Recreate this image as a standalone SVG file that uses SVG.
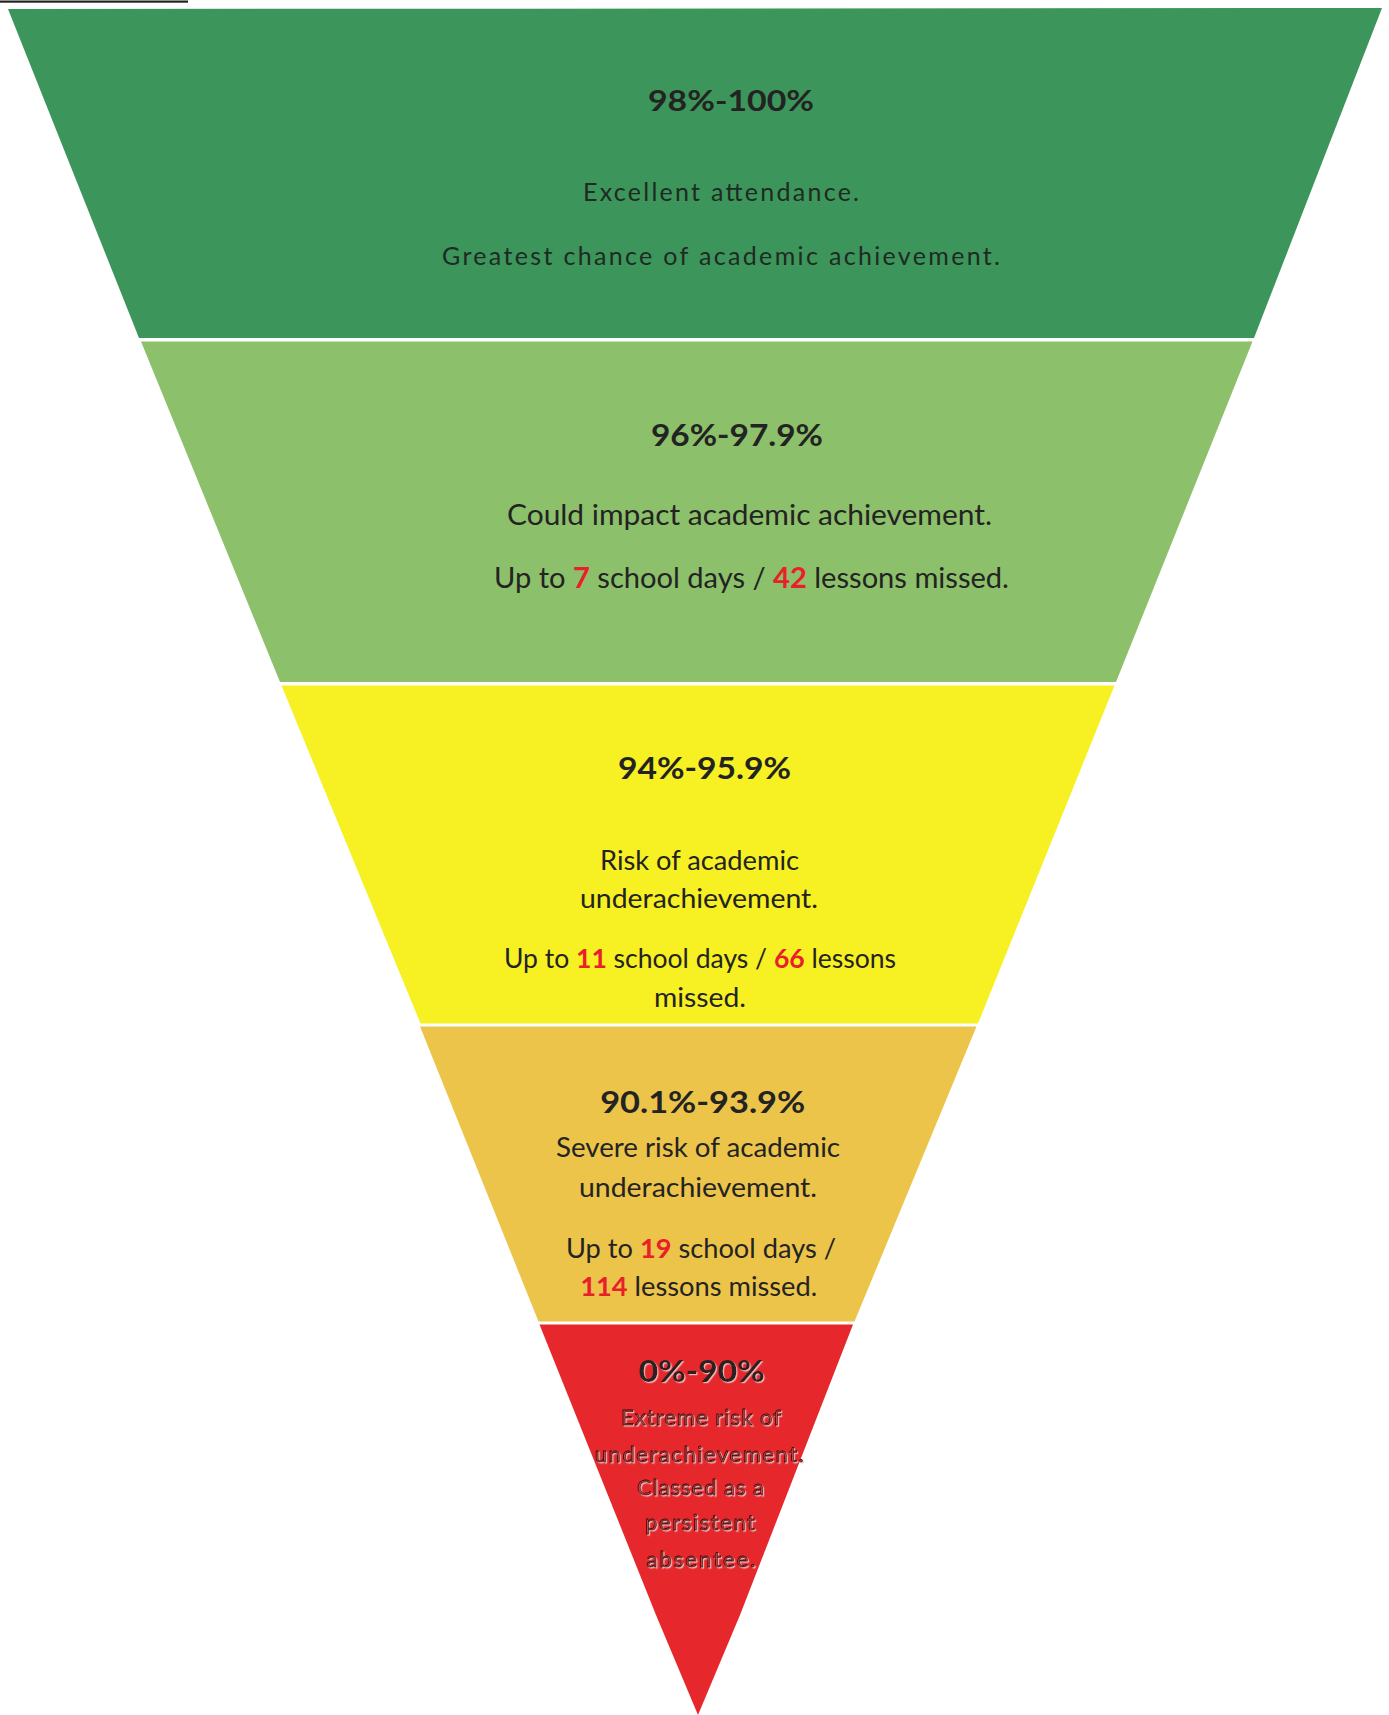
<svg xmlns="http://www.w3.org/2000/svg" width="1389" height="1715" viewBox="0 0 1389 1715">
<style>
  .t { font-family: Lato, "Open Sans", "Liberation Sans", sans-serif; fill: #232323; text-anchor: middle; }
  .h { font-weight: bold; font-size: 30px; }
  .b { font-size: 27px; }
  .top { font-size: 25px; fill: #1f2a23; }
  .n { font-weight: bold; fill: #e8202a; }
  .r { font-size: 22px; fill: #d83a3a; stroke: #2a0c0c; stroke-width: 0.8px; filter: url(#emb); }
  .rh { font-size: 30px; font-weight: bold; fill: #2a2020; filter: url(#emb); }
</style>
<defs>
  <filter id="emb" x="-10%" y="-30%" width="120%" height="160%">
    <feDropShadow dx="1.2" dy="1.2" stdDeviation="0.6" flood-color="#f6c2c2" flood-opacity="0.9"/>
  </filter>
</defs>
<rect width="1389" height="1715" fill="#ffffff"/>
<rect x="0" y="0.5" width="188" height="2.2" fill="#222222"/>

<g id="band-98-100">
  <polygon points="8,9 1382,8 1254,338 139,338" fill="#3c955a"/>
  <text class="t h" x="731" y="111" style="font-size:28px" textLength="166" lengthAdjust="spacingAndGlyphs">98%-100%</text>
  <text class="t top" x="721" y="201" textLength="276" lengthAdjust="spacing">Excellent attendance.</text>
  <text class="t top" x="721" y="265" textLength="558" lengthAdjust="spacing">Greatest chance of academic achievement.</text>
</g>

<g id="band-96-97">
  <polygon points="141,341.5 1252.5,341.5 1116,682 280,682" fill="#8cc06a"/>
  <text class="t h" x="737" y="446" textLength="172" lengthAdjust="spacingAndGlyphs">96%-97.9%</text>
  <text class="t b" x="749.5" y="525" style="font-size:28.5px" textLength="485" lengthAdjust="spacingAndGlyphs">Could impact academic achievement.</text>
  <text class="t b" x="751.5" y="588" style="font-size:28.5px" textLength="515" lengthAdjust="spacingAndGlyphs">Up to <tspan class="n">7</tspan> school days / <tspan class="n">42</tspan> lessons missed.</text>
</g>

<g id="band-94-95">
  <polygon points="281.5,685.5 1114.5,685.5 978,1023.5 420.5,1023.5" fill="#f7f023"/>
  <text class="t h" x="704.5" y="779" textLength="173" lengthAdjust="spacingAndGlyphs">94%-95.9%</text>
  <text class="t b" x="699.5" y="870" textLength="199" lengthAdjust="spacingAndGlyphs">Risk of academic</text>
  <text class="t b" x="699" y="908" textLength="238" lengthAdjust="spacingAndGlyphs">underachievement.</text>
  <text class="t b" x="700" y="968" textLength="392" lengthAdjust="spacingAndGlyphs">Up to <tspan class="n">11</tspan> school days / <tspan class="n">66</tspan> lessons</text>
  <text class="t b" x="700" y="1006.5" textLength="92" lengthAdjust="spacingAndGlyphs">missed.</text>
</g>

<g id="band-90-93">
  <polygon points="420,1026.5 976.5,1026.5 854.5,1321.5 538.5,1321.5" fill="#ecc44a"/>
  <text class="t h" x="702.7" y="1113" textLength="205" lengthAdjust="spacingAndGlyphs">90.1%-93.9%</text>
  <text class="t b" x="698" y="1157" textLength="284" lengthAdjust="spacingAndGlyphs">Severe risk of academic</text>
  <text class="t b" x="698" y="1196.5" textLength="238" lengthAdjust="spacingAndGlyphs">underachievement.</text>
  <text class="t b" x="701" y="1258" textLength="270" lengthAdjust="spacingAndGlyphs">Up to <tspan class="n">19</tspan> school days /</text>
  <text class="t b" x="698.7" y="1295.5" textLength="237" lengthAdjust="spacingAndGlyphs"><tspan class="n">114</tspan> lessons missed.</text>
</g>

<g id="band-0-90">
  <polygon points="539.5,1324.5 853,1324.5 740,1615 698,1715 656,1615" fill="#e6282d"/>
  <text class="t rh" x="701.8" y="1381.5" textLength="126" lengthAdjust="spacingAndGlyphs">0%-90%</text>
  <text class="t r" x="701" y="1425" textLength="160" lengthAdjust="spacing">Extreme risk of</text>
  <text class="t r" x="699.3" y="1461.5" textLength="209" lengthAdjust="spacing">underachievement.</text>
  <text class="t r" x="700.4" y="1495" textLength="127" lengthAdjust="spacing">Classed as a</text>
  <text class="t r" x="700" y="1530" textLength="110" lengthAdjust="spacing">persistent</text>
  <text class="t r" x="701" y="1566.5" textLength="109" lengthAdjust="spacing">absentee.</text>
</g>
</svg>
